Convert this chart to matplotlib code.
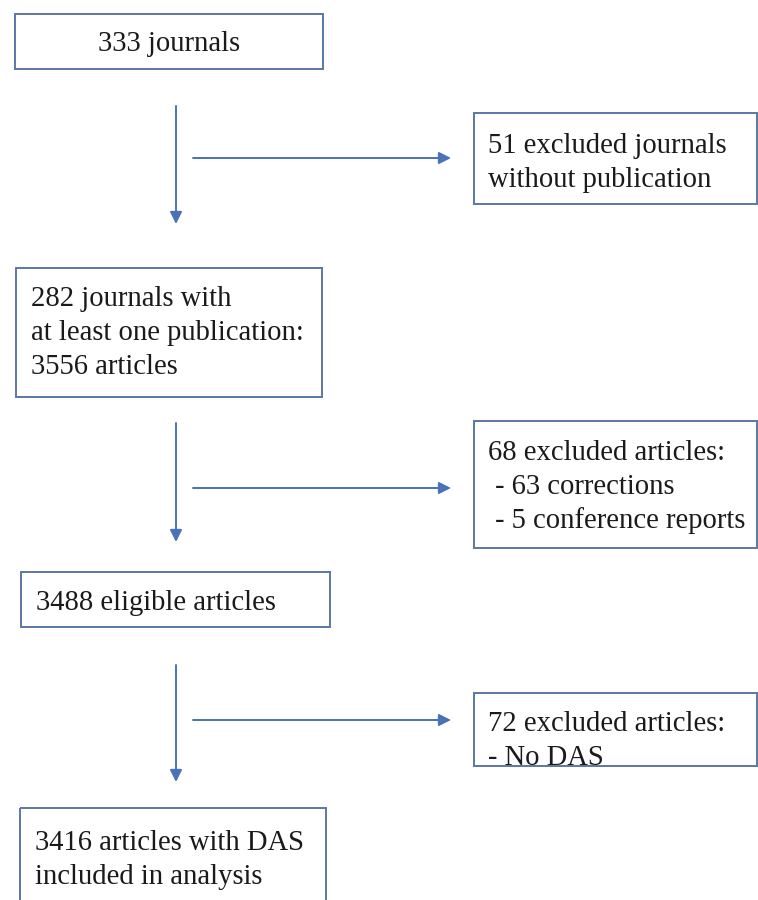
import matplotlib
matplotlib.use("Agg")
import matplotlib.pyplot as plt
from matplotlib.patches import Rectangle

# ---------------------------------------------------------------------------
# Flow content
# ---------------------------------------------------------------------------

main_labels = [
    "333 journals",
    "282 journals with\nat least one publication:\n3556 articles",
    "3488 eligible articles",
    "3416 articles with DAS\nincluded in analysis",
]
excluded_labels = [
    "51 excluded journals\nwithout publication",
    "68 excluded articles:\n - 63 corrections\n - 5 conference reports",
    "72 excluded articles:\n- No DAS",
]

# layout (pixel coords, y downwards)
main_boxes = [(15, 14, 323, 69), (16, 268, 322, 397), (21, 572, 330, 627), (20, 808, 326, 910)]
main_align = ["center", "left", "left", "left"]
main_text_y = [41, 330, 600, 857]
excl_boxes = [(474, 113, 757, 204), (474, 421, 757, 548), (474, 693, 757, 766)]
excl_text_y = [160, 484, 738]
v_arrows = [(106, 224), (423, 542), (665, 782)]
h_arrow_y = [158, 488, 720]

C_EDGE = "#5b77a6"
C_ARROW = "#4a72b8"
FONT = "Liberation Serif"
FS = 20.6
LINE_GAP = 34

fig = plt.figure(figsize=(7.58, 9.0), dpi=100)
ax = fig.add_axes([0, 0, 1, 1])
ax.set_xlim(0, 758)
ax.set_ylim(900, 0)
ax.axis("off")


def box(x0, y0, x1, y1):
    ax.add_patch(Rectangle((x0, y0), x1 - x0, y1 - y0, fill=False,
                           edgecolor=C_EDGE, linewidth=1.4))


def lines(x, yc, label, ha):
    rows = label.split("\n")
    top = yc - LINE_GAP * (len(rows) - 1) / 2
    for i, row in enumerate(rows):
        ax.text(x, top + i * LINE_GAP, row, ha=ha, va="center_baseline",
                fontsize=FS, family=FONT, color="#1a1a1a")


def arrow(x0, y0, x1, y1):
    ax.annotate("", xy=(x1, y1), xytext=(x0, y0),
                arrowprops=dict(arrowstyle="-|>", color=C_ARROW, lw=1.4,
                                mutation_scale=18, shrinkA=0, shrinkB=0))


for (x0, y0, x1, y1), label, ha, ty in zip(main_boxes, main_labels, main_align, main_text_y):
    box(x0, y0, x1, y1)
    tx = (x0 + x1) / 2 if ha == "center" else x0 + 15
    lines(tx, ty, label, ha)

for (x0, y0, x1, y1), label, ty in zip(excl_boxes, excluded_labels, excl_text_y):
    box(x0, y0, x1, y1)
    lines(x0 + 14, ty, label, "left")

for (ya, yb), yh in zip(v_arrows, h_arrow_y):
    arrow(176, ya, 176, yb)
    arrow(193, yh, 451, yh)

fig.savefig("out.png", dpi=100)
